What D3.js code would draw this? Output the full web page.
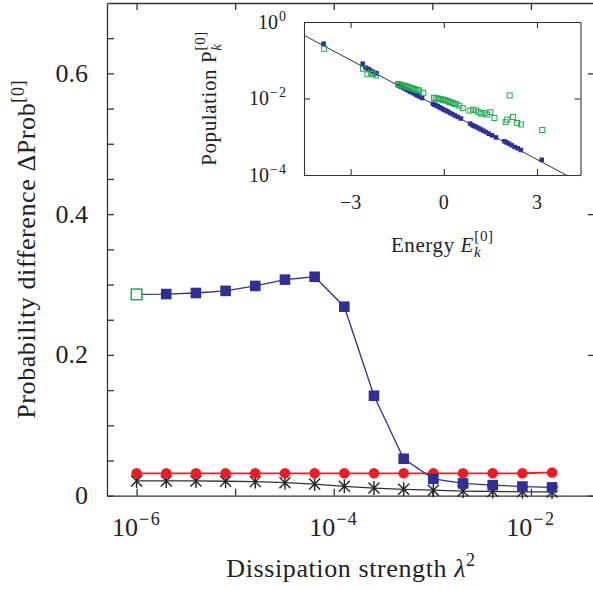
<!DOCTYPE html>
<html>
<head>
<meta charset="utf-8">
<script src="https://cdn.jsdelivr.net/npm/d3@7"></script>
<style>
body { margin: 0; background: #fff; }
text { font-family: "Liberation Serif", "DejaVu Serif", serif; fill: #222; }
.axis path, .axis line { stroke: #333; stroke-width: 1.3px; }
.title { letter-spacing: 0.6px; }
</style>
</head>
<body>
<div id="chart"></div>
<script>
// main plot data
var lambda2 = [1e-6, 2e-6, 4e-6, 8e-6, 1.6e-5, 3.2e-5, 6.4e-5, 1.28e-4, 2.56e-4, 5.12e-4, 1.024e-3, 2.048e-3, 4.096e-3, 8.192e-3, 1.6384e-2];
var blueVals = [0.286, 0.2865, 0.288, 0.291, 0.298, 0.307, 0.311, 0.2685, 0.142, 0.0525, 0.024, 0.0175, 0.015, 0.013, 0.0118];
var redVals = [0.0318, 0.0318, 0.0318, 0.0318, 0.0318, 0.0318, 0.0318, 0.0318, 0.0318, 0.0318, 0.0318, 0.0318, 0.0318, 0.0319, 0.033];
var starVals = [0.021, 0.021, 0.021, 0.0205, 0.020, 0.0185, 0.0165, 0.0133, 0.0108, 0.009, 0.0079, 0.0066, 0.006, 0.0055, 0.0053];

var xTickVals = [1e-6, 1e-5, 1e-4, 1e-3, 1e-2];
var xLabelExps = [-6, -4, -2];
var yTickVals = [0, 0.05, 0.1, 0.15, 0.2, 0.25, 0.3, 0.35, 0.4, 0.45, 0.5, 0.55, 0.6, 0.65];
var yLabelVals = [0, 0.2, 0.4, 0.6];
var yLabelText = ["0", "0.2", "0.4", "0.6"];

// inset data
var insetBlueE = [-3.87, -2.61, -2.52, -2.45, -2.38, -2.30, -2.22, -2.16, -1.45, -1.38, -1.30, -1.22, -1.15, -1.08, -1.00, -0.92, -0.85, -0.78, -0.70,
    -0.35, -0.30, -0.25, -0.20, -0.14, -0.08, -0.02, 0.05, 0.12, 0.20, 0.28, 0.36, 0.45, 0.55,
    0.85, 0.92, 0.98, 1.05, 1.12, 1.20, 1.28, 1.36, 1.45, 1.55, 1.68, 1.95, 2.02, 2.10, 2.18, 2.28, 2.38, 2.48, 3.15];
var insetBlueP = [0.27, 0.081, 0.064, 0.060, 0.056, 0.051, 0.047, 0.045, 0.0219, 0.0204, 0.0188, 0.0174, 0.0162, 0.0151, 0.0139, 0.0129, 0.0120, 0.0112, 0.0103,
    0.0073, 0.0069, 0.0066, 0.0063, 0.0059, 0.0056, 0.0052, 0.0049, 0.0046, 0.0042, 0.0039, 0.0036, 0.0033, 0.0030,
    0.0022, 0.0020, 0.0019, 0.0018, 0.00167, 0.00155, 0.00143, 0.00132, 0.0012, 0.00109, 0.00096, 0.00076, 0.00071, 0.00066, 0.0006, 0.00054, 0.0005, 0.00045, 0.00025];
var insetGreenE = [-3.85, -2.60, -2.46, -2.35, -2.28, -2.18, -1.48, -1.43, -1.37, -1.32, -1.26, -1.22, -1.16, -1.11, -1.05, -1.00, -0.94, -0.89, -0.84, -0.79, -0.66,
    -0.32, -0.26, -0.20, -0.14, -0.08, -0.03, 0.03, 0.07, 0.13, 0.18, 0.24, 0.29, 0.35, 0.40, 0.50, 0.61,
    0.83, 0.94, 1.04, 1.12, 1.20, 1.31, 1.40, 1.50, 1.63, 1.99, 2.04, 2.12, 2.23, 2.36, 2.49, 3.17];
var insetGreenP = [0.20, 0.060, 0.043, 0.047, 0.044, 0.040, 0.024, 0.0232, 0.0224, 0.0219, 0.0214, 0.0209, 0.0202, 0.0195, 0.0188, 0.0182, 0.0176, 0.0170, 0.0166, 0.0162, 0.0141,
    0.0105, 0.0102, 0.0100, 0.0098, 0.0095, 0.0093, 0.0091, 0.0089, 0.0085, 0.0081, 0.0079, 0.0076, 0.0073, 0.0071, 0.0065, 0.0056,
    0.0048, 0.0051, 0.0049, 0.0044, 0.0040, 0.0042, 0.0038, 0.0044, 0.0031, 0.0024, 0.0028, 0.012, 0.0033, 0.0023, 0.0021, 0.0015];
var insetLineE = [-4.5, 4.4];
var insetLineP = [0.45, 6.3e-5];
var insetXTicks = [-3, 0, 3];
var insetXLabels = ["\u22123", "0", "3"];
var insetYTicks = [1e-4, 1e-2, 1];
var insetYExps = [-4, -2, 0];

var blueColor = "#2e3192", redColor = "#ec1c24", greenColor = "#1fa84f", starColor = "#222";

var W = 593, H = 590;
var margin = {top: 3, left: 107, right: 595, bottom: 495.7};

var svg = d3.select("#chart").append("svg")
    .attr("width", W)
    .attr("height", H);

var x = d3.scaleLog()
    .domain([Math.pow(10, -6.3), Math.pow(10, -1.35)])
    .range([margin.left, margin.right]);
var y = d3.scaleLinear()
    .domain([0, 0.7])
    .range([margin.bottom, margin.top]);

// frame / axes, ticks inward
svg.append("g").attr("class", "axis")
    .attr("transform", "translate(0," + margin.bottom + ")")
    .call(d3.axisBottom(x).tickValues(xTickVals).tickSize(-7).tickSizeOuter(0).tickFormat(""));
svg.append("g").attr("class", "axis")
    .attr("transform", "translate(0," + margin.top + ")")
    .call(d3.axisTop(x).tickValues(xTickVals).tickSize(-7).tickSizeOuter(0).tickFormat(""));
svg.append("g").attr("class", "axis")
    .attr("transform", "translate(" + margin.left + ",0)")
    .call(d3.axisLeft(y).tickValues(yTickVals).tickSize(-7).tickSizeOuter(0).tickFormat(""));
svg.append("g").attr("class", "axis")
    .attr("transform", "translate(" + margin.right + ",0)")
    .call(d3.axisRight(y).tickValues(yLabelVals).tickSize(-7).tickSizeOuter(0).tickFormat(""));

// y tick labels
svg.selectAll(".ylab").data(yLabelVals)
    .enter().append("text")
    .attr("class", "ylab")
    .attr("x", margin.left - 19)
    .attr("y", function(d) { return y(d) + 8.5; })
    .attr("text-anchor", "end")
    .style("font-size", "26px")
    .text(function(d, i) { return yLabelText[i]; });

// x tick labels 10^n
var xl = svg.selectAll(".xlab").data(xLabelExps)
    .enter().append("text")
    .attr("class", "xlab")
    .attr("x", function(d) { return x(Math.pow(10, d)); })
    .attr("y", 536)
    .attr("text-anchor", "middle")
    .style("font-size", "26px");
xl.append("tspan").text("10");
xl.append("tspan")
    .attr("dy", -11)
    .attr("dx", 1)
    .style("font-size", "18px")
    .style("letter-spacing", "1.5px")
    .text(function(d) { return "\u2212" + Math.abs(d); });

// axis titles
var xt = svg.append("text")
    .attr("class", "title")
    .attr("x", (margin.left + margin.right) / 2)
    .attr("y", 577)
    .attr("text-anchor", "middle")
    .style("font-size", "26px");
xt.append("tspan").text("Dissipation strength ");
xt.append("tspan").style("font-style", "italic").text("\u03bb");
xt.append("tspan").attr("dy", -11).style("font-size", "18px").text("2");

var yt = svg.append("text")
    .attr("class", "title")
    .attr("transform", "translate(35," + (margin.top + margin.bottom) / 2 + ") rotate(-90)")
    .attr("text-anchor", "middle")
    .style("font-size", "26px");
yt.append("tspan").text("Probability difference \u0394Prob");
yt.append("tspan").attr("dy", -11).style("font-size", "18px").text("[0]");

// series
var starLine = d3.line()
    .x(function(d, i) { return x(lambda2[i]); })
    .y(function(d) { return y(d); });

svg.append("path").datum(starVals)
    .attr("d", starLine)
    .attr("fill", "none")
    .attr("stroke", "#333")
    .attr("stroke-width", 1.3);
svg.selectAll(".star").data(starVals)
    .enter().append("path")
    .attr("class", "star")
    .attr("transform", function(d, i) { return "translate(" + x(lambda2[i]) + "," + y(d) + ")"; })
    .attr("d", "M0,-7V7M-5.5,-5.5L5.5,5.5M-5.5,5.5L5.5,-5.5")
    .attr("stroke", starColor)
    .attr("stroke-width", 1.4)
    .attr("fill", "none");

svg.append("path").datum(redVals)
    .attr("d", starLine)
    .attr("fill", "none")
    .attr("stroke", redColor)
    .attr("stroke-width", 1.8);
svg.selectAll(".redc").data(redVals)
    .enter().append("circle")
    .attr("class", "redc")
    .attr("cx", function(d, i) { return x(lambda2[i]); })
    .attr("cy", function(d) { return y(d); })
    .attr("r", 5.3)
    .attr("fill", redColor);

svg.append("path").datum(blueVals)
    .attr("d", starLine)
    .attr("fill", "none")
    .attr("stroke", blueColor)
    .attr("stroke-width", 1.3);
svg.selectAll(".blues").data(blueVals)
    .enter().append("rect")
    .attr("class", "blues")
    .attr("x", function(d, i) { return x(lambda2[i]) - 5.3; })
    .attr("y", function(d) { return y(d) - 5.3; })
    .attr("width", 10.6)
    .attr("height", 10.6)
    .attr("fill", function(d, i) { return i == 0 ? "#fff" : blueColor; })
    .attr("stroke", function(d, i) { return i == 0 ? greenColor : "none"; })
    .attr("stroke-width", 1.5);

// inset
var ix = d3.scaleLinear().domain([-4.5, 4.4]).range([304, 580.5]);
var iy = d3.scaleLog().domain([1e-4, 1]).range([175, 22]);

svg.append("clipPath").attr("id", "insetClip")
    .append("rect")
    .attr("x", ix(-4.5)).attr("y", iy(1))
    .attr("width", ix(4.4) - ix(-4.5)).attr("height", iy(1e-4) - iy(1));

var inset = svg.append("g");
inset.append("g").attr("class", "axis")
    .attr("transform", "translate(0," + iy(1e-4) + ")")
    .call(d3.axisBottom(ix).tickValues(insetXTicks).tickSize(-6).tickSizeOuter(0).tickFormat(""));
inset.append("g").attr("class", "axis")
    .attr("transform", "translate(0," + iy(1) + ")")
    .call(d3.axisTop(ix).tickValues(insetXTicks).tickSize(-6).tickSizeOuter(0).tickFormat(""));
inset.append("g").attr("class", "axis")
    .attr("transform", "translate(" + ix(-4.5) + ",0)")
    .call(d3.axisLeft(iy).tickValues(insetYTicks).tickSize(-6).tickSizeOuter(0).tickFormat(""));
inset.append("g").attr("class", "axis")
    .attr("transform", "translate(" + ix(4.4) + ",0)")
    .call(d3.axisRight(iy).tickValues(insetYTicks).tickSize(-6).tickSizeOuter(0).tickFormat(""));
inset.selectAll(".axis path, .axis line").style("stroke-width", "1.1px");

inset.append("path").datum(insetLineE)
    .attr("clip-path", "url(#insetClip)")
    .attr("d", d3.line()
        .x(function(d) { return ix(d); })
        .y(function(d, i) { return iy(insetLineP[i]); }))
    .attr("stroke", "#333")
    .attr("stroke-width", 1)
    .attr("fill", "none");

inset.selectAll(".ib").data(insetBlueE)
    .enter().append("rect")
    .attr("class", "ib")
    .attr("x", function(d) { return ix(d) - 2.3; })
    .attr("y", function(d, i) { return iy(insetBlueP[i]) - 2.3; })
    .attr("width", 4.6)
    .attr("height", 4.6)
    .attr("fill", blueColor);

inset.selectAll(".ig").data(insetGreenE)
    .enter().append("rect")
    .attr("class", "ig")
    .attr("x", function(d) { return ix(d) - 2.5; })
    .attr("y", function(d, i) { return iy(insetGreenP[i]) - 2.5; })
    .attr("width", 5)
    .attr("height", 5)
    .attr("fill", "none")
    .attr("stroke", greenColor)
    .attr("stroke-width", 1);

inset.selectAll(".ixl").data(insetXTicks)
    .enter().append("text")
    .attr("class", "ixl")
    .attr("x", function(d) { return ix(d); })
    .attr("y", 209)
    .attr("text-anchor", "middle")
    .style("font-size", "20px")
    .text(function(d, i) { return insetXLabels[i]; });

var iyl = inset.selectAll(".iyl").data(insetYTicks)
    .enter().append("text")
    .attr("class", "iyl")
    .attr("x", 287)
    .attr("y", function(d) { return iy(d) + 6.5; })
    .attr("text-anchor", "end")
    .style("font-size", "20px");
iyl.append("tspan").text("10");
iyl.append("tspan")
    .attr("dy", -8)
    .attr("dx", 1)
    .style("font-size", "14px")
    .style("letter-spacing", "1px")
    .text(function(d, i) { return insetYExps[i] == 0 ? "0" : "\u2212" + Math.abs(insetYExps[i]); });

var ixt = inset.append("text")
    .attr("class", "title")
    .attr("x", (ix(-4.5) + ix(4.4)) / 2)
    .attr("y", 252)
    .attr("text-anchor", "middle")
    .style("font-size", "21px");
ixt.append("tspan").text("Energy ");
ixt.append("tspan").style("font-style", "italic").text("E");
ixt.append("tspan").attr("dy", 5).style("font-size", "15px").style("font-style", "italic").text("k");
ixt.append("tspan").attr("dx", -7).attr("dy", -16).style("font-size", "15px").text("[0]");

var iyt = inset.append("text")
    .attr("class", "title")
    .attr("transform", "translate(216," + (iy(1) + iy(1e-4)) / 2 + ") rotate(-90)")
    .attr("text-anchor", "middle")
    .style("font-size", "21px");
iyt.append("tspan").text("Population P");
iyt.append("tspan").attr("dy", 5).style("font-size", "15px").style("font-style", "italic").text("k");
iyt.append("tspan").attr("dx", -7).attr("dy", -16).style("font-size", "15px").text("[0]");
</script>
</body>
</html>
